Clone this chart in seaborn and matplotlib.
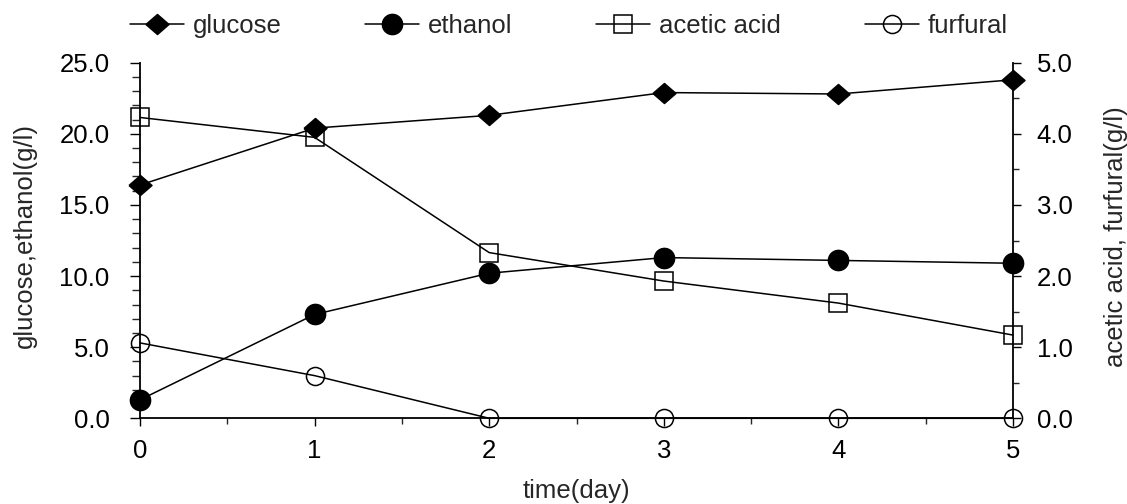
import matplotlib
matplotlib.use("Agg")
import matplotlib.pyplot as plt
import seaborn as sns
import pandas as pd
from matplotlib.ticker import MultipleLocator, FormatStrFormatter

# Fermentation time course
days = [0, 1, 2, 3, 4, 5]
glucose = [16.4, 20.4, 21.3, 22.9, 22.8, 23.8]
ethanol = [1.3, 7.3, 10.2, 11.3, 11.1, 10.9]
acetic_acid = [4.23, 3.95, 2.33, 1.93, 1.62, 1.17]
furfural = [1.06, 0.60, 0.0, 0.0, 0.0, 0.0]

sns.set_style("ticks")
plt.rcParams["font.family"] = ["Liberation Sans", "DejaVu Sans"]
FS = 18.5

fig = plt.figure(figsize=(11.27, 5.04), dpi=100)
ax = fig.add_axes([140 / 1127, 1 - 418.3 / 504, 873 / 1127, 355.6 / 504])
ax2 = ax.twinx()

line_kw = dict(color="black", linewidth=1.1, markeredgecolor="black",
               markeredgewidth=1.1, clip_on=False, legend=False)

df = pd.DataFrame({"day": days, "glucose": glucose, "ethanol": ethanol,
                   "acetic acid": acetic_acid, "furfural": furfural})

# diamond slightly wider than tall
diamond = [(-1, 0), (0, 0.87), (1, 0), (0, -0.87), (-1, 0)]

sns.lineplot(data=df, x="day", y="glucose", ax=ax, marker=diamond,
             markersize=16.5, markerfacecolor="black", label="glucose", **line_kw)
sns.lineplot(data=df, x="day", y="ethanol", ax=ax, marker="o",
             markersize=14.5, markerfacecolor="black", label="ethanol", **line_kw)
sns.lineplot(data=df, x="day", y="acetic acid", ax=ax2, marker="s",
             markersize=13.5, markerfacecolor="none", label="acetic acid", **line_kw)
sns.lineplot(data=df, x="day", y="furfural", ax=ax2, marker="o",
             markersize=13, markerfacecolor="none", label="furfural", **line_kw)

ax.set_xlim(0, 5)
ax.set_ylim(0, 25)
ax2.set_ylim(0, 5)

ax.xaxis.set_major_locator(MultipleLocator(1))
ax.xaxis.set_minor_locator(MultipleLocator(0.5))
ax.yaxis.set_major_locator(MultipleLocator(5))
ax.yaxis.set_minor_locator(MultipleLocator(1))
ax.yaxis.set_major_formatter(FormatStrFormatter("%.1f"))
ax2.yaxis.set_major_locator(MultipleLocator(1))
ax2.yaxis.set_minor_locator(MultipleLocator(0.5))
ax2.yaxis.set_major_formatter(FormatStrFormatter("%.1f"))

for a in (ax, ax2):
    a.spines["top"].set_visible(False)
    for s in a.spines.values():
        s.set_linewidth(1.3)
        s.set_color("black")
ax.spines["right"].set_visible(False)
ax2.spines["left"].set_visible(False)
ax2.spines["bottom"].set_visible(False)

ax.tick_params(axis="x", which="major", direction="out", length=6, width=1.0,
               labelsize=FS, pad=9, colors="black")
ax.tick_params(axis="x", which="minor", direction="out", length=4.3, width=1.0)
ax.tick_params(axis="y", which="major", direction="out", length=7, width=1.0,
               labelsize=FS, pad=15, colors="black")
ax.tick_params(axis="y", which="minor", direction="out", length=5.5, width=1.0)
ax2.tick_params(axis="y", which="major", direction="out", length=6, width=1.0,
                labelsize=FS, pad=11, colors="black")
ax2.tick_params(axis="y", which="minor", direction="out", length=4.3, width=1.0)

ax.set_xlabel("time(day)", fontsize=FS)
ax.set_ylabel("glucose,ethanol(g/l)", fontsize=FS)
ax2.set_ylabel("acetic acid, furfural(g/l)", fontsize=FS)
ax.xaxis.set_label_coords(0.5, (418.3 - 491) / 355.6)
ax.xaxis.label.set_va("center")
ax.yaxis.set_label_coords((25 - 140) / 873, 0.515)
ax.yaxis.label.set_va("center")
ax2.yaxis.set_label_coords((1116 - 140) / 873, 0.51)
ax2.yaxis.label.set_va("center")

h1, l1 = ax.get_legend_handles_labels()
h2, l2 = ax2.get_legend_handles_labels()
fig.legend(h1 + h2, l1 + l2, loc="center left", ncol=4,
           bbox_to_anchor=(130 / 1127, 1 - 26 / 504), frameon=False,
           fontsize=FS, handlelength=2.1, handletextpad=0.35,
           columnspacing=3.25, borderpad=0, borderaxespad=0)

fig.savefig("out.png", dpi=100)
